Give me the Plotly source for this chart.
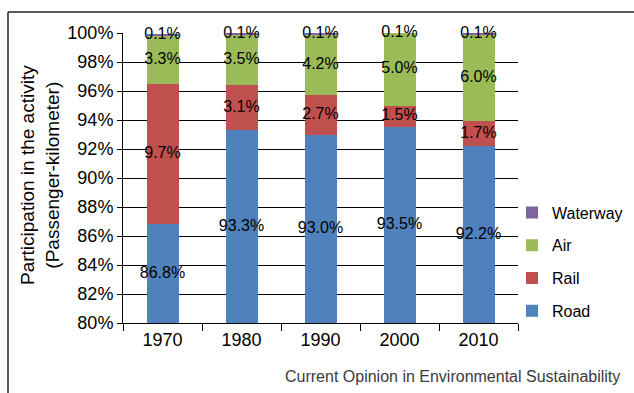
import plotly.graph_objects as go

years = ["1970", "1980", "1990", "2000", "2010"]
road = [86.8, 93.3, 93.0, 93.5, 92.2]
rail = [9.7, 3.1, 2.7, 1.5, 1.7]
air = [3.3, 3.5, 4.2, 5.0, 6.0]
waterway = [0.1, 0.1, 0.1, 0.1, 0.1]

series = [
    ("Road", road, "#4F81BD"),
    ("Rail", rail, "#C0504D"),
    ("Air", air, "#9BBB59"),
    ("Waterway", waterway, "#8064A2"),
]

Y_MIN, Y_MAX = 80, 100
FONT = "Liberation Sans, Arial, Helvetica, sans-serif"

# plot-area geometry in pixels, used to place paper-referenced extras
L, R, T, B = 123, 116, 33, 70
W, H = 634, 393
PW, PH = W - L - R, H - T - B


def px_x(x):
    return (x - L) / PW


def px_y(y):
    return (H - B - y) / PH


fig = go.Figure()

base = [0.0] * len(years)
label_x, label_y, label_t = [], [], []
for i, (name, vals, color) in enumerate(series):
    fig.add_trace(go.Bar(
        x=years, y=vals, name=name, marker=dict(color=color, line=dict(width=0)),
        legendgroup=name, legendrank=1000 - i,  # top of the stack listed first
    ))
    for j, v in enumerate(vals):
        lo = max(base[j], Y_MIN)
        hi = min(base[j] + v, Y_MAX)
        label_x.append(years[j])
        label_y.append((lo + hi) / 2)
        label_t.append(f"{v:.1f}%")
        base[j] += v

# value labels centred on the visible part of each segment
fig.add_trace(go.Scatter(
    x=label_x, y=label_y, text=label_t, mode="text",
    textfont=dict(family=FONT, size=16, color="black"),
    showlegend=False, hoverinfo="skip", cliponaxis=False,
))

fig.update_layout(
    width=W, height=H,
    margin=dict(l=L, r=R, t=T, b=B, autoexpand=False),
    barmode="stack", bargap=0.595,
    plot_bgcolor="white", paper_bgcolor="white",
    font=dict(family=FONT, color="black"),
    showlegend=True,
    legend=dict(
        x=px_x(512), xanchor="left", y=px_y(262), yanchor="middle",
        traceorder="grouped", tracegroupgap=9,
        font=dict(size=16, family=FONT),
        bgcolor="rgba(0,0,0,0)",
    ),
    xaxis=dict(
        type="category", showline=True, linecolor="black", linewidth=1,
        ticks="outside", tickson="boundaries", ticklen=7, tickcolor="black",
        tickfont=dict(size=18, family=FONT), showgrid=False,
    ),
    yaxis=dict(
        range=[Y_MIN, Y_MAX], dtick=2, ticksuffix="%",
        showline=True, linecolor="black", linewidth=1,
        ticks="outside", ticklen=5, tickcolor="black",
        tickfont=dict(size=18, family=FONT),
        showgrid=True, gridcolor="black", gridwidth=1,
        zeroline=False,
    ),
    annotations=[
        dict(
            text="Participation in the activity<br>(Passenger-kilometer)",
            xref="paper", yref="paper", x=px_x(40), y=px_y(175),
            xanchor="center", yanchor="middle", textangle=-90,
            showarrow=False, font=dict(size=19, family=FONT, color="black"),
        ),
        dict(
            text="Current Opinion in Environmental Sustainability",
            xref="paper", yref="paper", x=px_x(622), y=px_y(376),
            xanchor="right", yanchor="middle", showarrow=False,
            font=dict(size=16, family=FONT, color="#3a3a3a"),
        ),
    ],
    shapes=[
        dict(type="line", xref="paper", yref="paper",
             x0=px_x(8), x1=px_x(8), y0=px_y(12), y1=px_y(400),
             line=dict(color="#222", width=1.5)),
        dict(type="line", xref="paper", yref="paper",
             x0=px_x(8), x1=px_x(640), y0=px_y(12), y1=px_y(12),
             line=dict(color="#222", width=1.5)),
    ],
)

fig.write_html("out.html")
